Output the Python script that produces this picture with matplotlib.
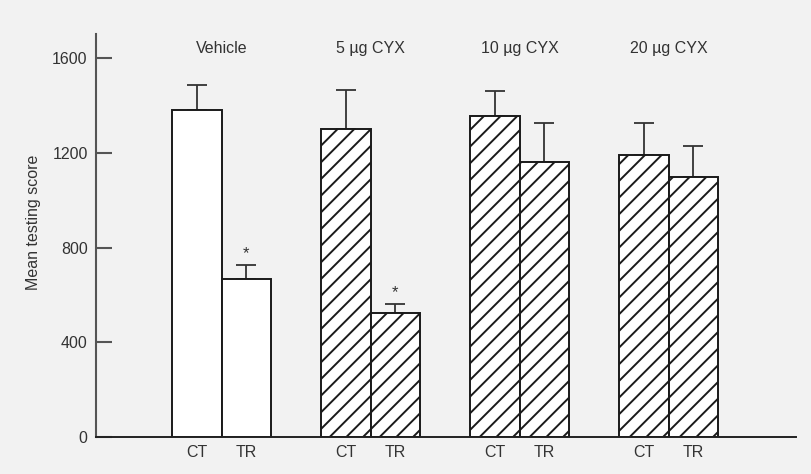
import matplotlib
matplotlib.use("Agg")
import matplotlib.pyplot as plt
import numpy as np

# Data
groups = ["Vehicle", "5 \u00b5g CYX", "10 \u00b5g CYX", "20 \u00b5g CYX"]
conditions = ["CT", "TR"]
ct_means = [1383, 1302, 1356, 1191]
ct_err = [106, 165, 106, 134]
tr_means = [669, 526, 1161, 1098]
tr_err = [59, 38, 164, 131]
significant_tr = [True, True, False, False]
y_ticks = [0, 400, 800, 1200, 1600]

plt.rcParams["font.family"] = ["Liberation Sans", "DejaVu Sans"]
plt.rcParams["hatch.linewidth"] = 1.4

bg = "#f2f2f2"
text_col = "#333333"
edge_col = "#1a1a1a"

fig = plt.figure(figsize=(8.12, 4.74), dpi=100, facecolor=bg)
ax = fig.add_axes([0.1182, 0.0781, 0.8621, 0.8502], facecolor=bg)

x = np.arange(len(groups))
w = 0.332
hatches = ["", "//", "//", "//"]

for i in range(len(groups)):
    for j, (m, e) in enumerate([(ct_means[i], ct_err[i]), (tr_means[i], tr_err[i])]):
        xpos = x[i] + (j - 0.5) * w
        ax.bar(xpos, m, width=w, color="white", edgecolor=edge_col,
               linewidth=1.4, hatch=hatches[i], zorder=2)
        ax.errorbar(xpos, m, yerr=[[0], [e]], fmt="none", ecolor="#333333",
                    elinewidth=1.3, capsize=7.2, capthick=1.3, zorder=1)
    if significant_tr[i]:
        ax.text(x[i] + 0.5 * w, tr_means[i] + tr_err[i] + 14, "*",
                ha="center", va="bottom", fontsize=12, color=text_col)

# Group titles above the bars
for i, g in enumerate(groups):
    ax.text(x[i], 0.965, g, transform=ax.get_xaxis_transform(),
            ha="center", va="center", fontsize=11.5, color=text_col)

ax.set_xlim(-0.844, 3.854)
ax.set_ylim(0, 1703)

xt = np.concatenate([[xi - w / 2, xi + w / 2] for xi in x])
ax.set_xticks(xt)
ax.set_xticklabels(conditions * len(groups), fontsize=11.5, color=text_col)
ax.tick_params(axis="x", length=0, pad=6)

ax.set_yticks(y_ticks)
ax.set_yticklabels([str(v) for v in y_ticks], fontsize=11.5, color=text_col)
ax.tick_params(axis="y", direction="in", length=11.5, width=1.5,
               color="#555555", pad=6)

ax.set_ylabel("Mean testing score", fontsize=11.5, color=text_col)
ax.yaxis.set_label_coords(-0.079, 0.533)

for s in ["top", "right"]:
    ax.spines[s].set_visible(False)
ax.spines["left"].set_color("#555555")
ax.spines["left"].set_linewidth(1.5)
ax.spines["bottom"].set_color("#222222")
ax.spines["bottom"].set_linewidth(1.4)

fig.savefig("out.png", dpi=100, facecolor=bg)
